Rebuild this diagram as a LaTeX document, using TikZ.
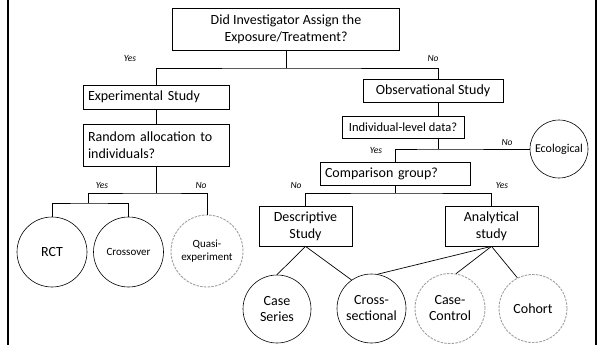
\documentclass[tikz,border=0pt]{standalone}
\usepackage{fontspec}
\setmainfont{Carlito}
\begin{document}
\begin{tikzpicture}[x=1pt,y=-1pt,
  every node/.style={inner sep=0pt},
  qbox/.style={draw, line width=0.7pt, align=center, font=\fontsize{14}{17}\selectfont},
  lbox/.style={qbox, align=left},
  leaf/.style={draw, circle, line width=0.6pt, align=center, font=\fontsize{14}{16}\selectfont},
  faint/.style={leaf, draw=gray!75, dash pattern=on 2.5pt off 1.2pt, line width=0.9pt},
  ans/.style={font=\fontsize{9.5}{10}\selectfont\itshape},
  link/.style={line width=0.7pt}]
\useasboundingbox (0,0) rectangle (599,345);

% side rules of the slide frame
\draw[line width=2.2pt] (8,0) -- (8,345);
\draw[line width=2.2pt] (595.7,0) -- (595.7,345);

% question and study-type boxes
\node[qbox, minimum width=227pt, minimum height=42pt] (q1) at (286,29) {Did Investigator Assign the\\Exposure/Treatment?};
\node[lbox, text width=136pt, minimum width=146pt, minimum height=24pt] (exp) at (156,97) {Experimental Study};
\node[lbox, text width=136pt, minimum width=146pt, minimum height=42pt] (rand) at (156,145) {Random allocation to\\individuals?};
\node[qbox, minimum width=140pt, minimum height=23pt] (obs) at (433,91) {Observational Study};
\node[qbox, minimum width=122pt, minimum height=22pt, font=\fontsize{12.5}{15}\selectfont] (ind) at (403,127) {Individual-level data?};
\node[lbox, text width=140pt, minimum width=150pt, minimum height=23pt] (comp) at (395,173.5) {Comparison group?};
\node[qbox, minimum width=93pt, minimum height=40pt] (desc) at (305.5,226) {Descriptive\\Study};
\node[qbox, minimum width=93pt, minimum height=40pt] (anal) at (491.5,226) {Analytical\\study};

% study designs
\node[leaf, minimum size=58pt, font=\fontsize{12}{14}\selectfont] (eco) at (559,149) {Ecological};
\node[leaf, minimum size=70pt] (rct) at (52,252) {RCT};
\node[leaf, minimum size=70pt, font=\fontsize{11}{13}\selectfont] (cross) at (128.5,252) {Crossover};
\node[faint, minimum size=72pt, font=\fontsize{11}{13.5}\selectfont] (quasi) at (207,251) {Quasi-\\experiment};
\node[leaf, minimum size=68pt] (caseseries) at (277,309) {Case\\Series};
\node[leaf, minimum size=69pt] (crosssec) at (371.5,308.5) {Cross-\\sectional};
\node[faint, minimum size=70pt] (casectrl) at (450,308.5) {Case-\\Control};
\node[faint, minimum size=68pt] (cohort) at (533,308.5) {Cohort};

% junction points of the tree
\coordinate (j1) at (286,68);
\coordinate (s2) at (438,0);
\coordinate (j2) at (438,149);
\coordinate (j3) at (395,193);
\coordinate (j4) at (156,193);
\coordinate (j5) at (88,203);

% connectors
\draw[link] (q1.south) -- (j1);
\draw[link] (exp.north) |- (j1) -| (obs.north -| s2);
\draw[link] (exp.south) -- (rand.north);
\draw[link] (obs.south -| s2) -- (ind.north -| s2);
\draw[link] (ind.south -| s2) -- (j2);
\draw[link] (comp.north) |- (j2) -- (eco.west);
\draw[link] (comp.south) -- (j3);
\draw[link] (desc.north) |- (j3) -| (anal.north);
\draw[link] (rand.south) -- (j4);
\draw[link] (j5) |- (j4) -| (quasi.north);
\draw[link] (rct.north) |- (j5) -| (cross.north);
\draw[link] (desc.south) -- (caseseries.north);
\draw[link] (desc.south) -- (crosssec.125);
\draw[link] (anal.south) -- (crosssec.80);
\draw[link] (anal.south) -- (casectrl.80);
\draw[link] (anal.south) -- (cohort.117);

% branch answers
\node[ans] (l1) at (130,58) {Yes};
\node[ans] (l2) at (433,58) {No};
\node[ans] (l3) at (102,185) {Yes};
\node[ans] (l4) at (201,185) {No};
\node[ans] (l5) at (376,150) {Yes};
\node[ans] (l6) at (507,142) {No};
\node[ans] (l7) at (296,185) {No};
\node[ans] (l8) at (502,185) {Yes};
\end{tikzpicture}
\end{document}
